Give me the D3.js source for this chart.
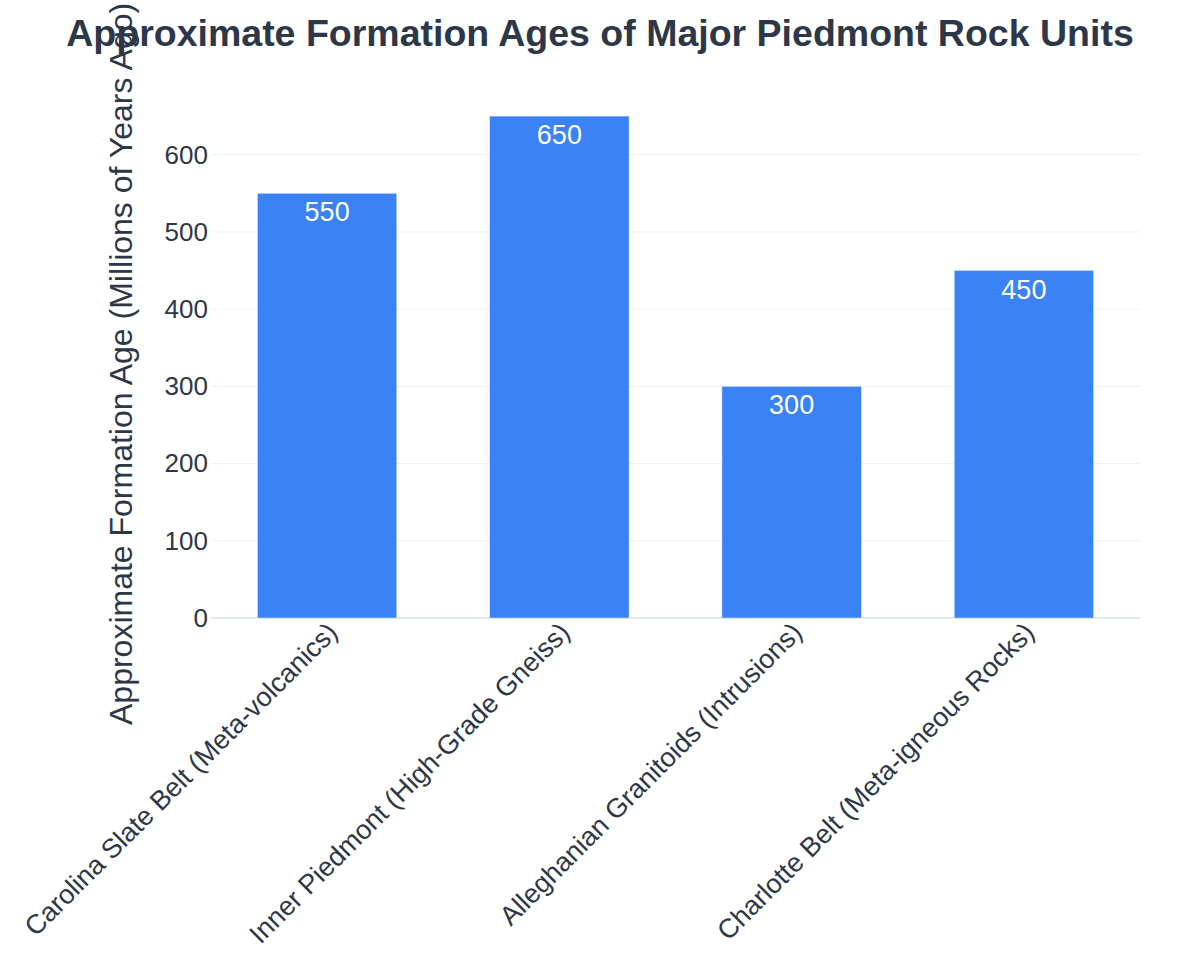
<!DOCTYPE html>
<html>
<head>
<meta charset="utf-8">
<script src="https://cdn.jsdelivr.net/npm/d3@7"></script>
<style>
	body { margin: 0; background: #fff; }
	svg { display: block; font-family: "Liberation Sans", Arial, sans-serif; }
</style>
</head>
<body>
<div id="chart"></div>
<script>
const rockUnits = [
	"Carolina Slate Belt (Meta-volcanics)",
	"Inner Piedmont (High-Grade Gneiss)",
	"Alleghanian Granitoids (Intrusions)",
	"Charlotte Belt (Meta-igneous Rocks)"
]
const ageValues = [550, 650, 300, 450]
const yTicks = [0, 100, 200, 300, 400, 500, 600]

const width = 1200, height = 975
const margin = {top: 91, right: 60, bottom: 357, left: 211}
const textColor = "#2d3748"

const svg = d3.select("#chart").append("svg")
	.attr("width", width)
	.attr("height", height)

const x = d3.scaleBand()
	.domain(rockUnits)
	.range([margin.left, width - margin.right])
	.paddingInner(0.4)
	.paddingOuter(0.2)

const y = d3.scaleLinear()
	.domain([0, d3.max(ageValues) * 1.05])
	.range([height - margin.bottom, margin.top])

// grid
svg.append("g")
	.selectAll("line")
	.data(yTicks)
	.join("line")
	.attr("x1", margin.left)
	.attr("x2", width - margin.right)
	.attr("y1", d => y(d))
	.attr("y2", d => y(d))
	.attr("stroke", d => d === 0 ? "#e2e8f0" : "#eef1f5")
	.attr("stroke-width", d => d === 0 ? 2 : 1)

// y axis labels
const yAxis = svg.append("g")
	.attr("transform", "translate(" + margin.left + ",0)")
	.call(d3.axisLeft(y).tickValues(yTicks).tickSize(0).tickPadding(3))
yAxis.select(".domain").remove()
yAxis.selectAll("text")
	.attr("font-size", 26)
	.attr("fill", textColor)
	.attr("font-family", "Liberation Sans, Arial, sans-serif")

// bars
svg.append("g")
	.selectAll("rect")
	.data(ageValues)
	.join("rect")
	.attr("x", (d, i) => x(rockUnits[i]))
	.attr("y", d => y(d))
	.attr("width", x.bandwidth())
	.attr("height", d => y(0) - y(d))
	.attr("fill", "#3b82f6")
	.attr("stroke", "#dbe8fd")
	.attr("stroke-width", 0.5)

svg.append("g")
	.selectAll("text")
	.data(ageValues)
	.join("text")
	.attr("x", (d, i) => x(rockUnits[i]) + x.bandwidth() / 2)
	.attr("y", d => y(d) + 28)
	.attr("text-anchor", "middle")
	.attr("font-size", 27)
	.attr("fill", "#fff")
	.text(d => d)

// x axis labels
const xAxis = svg.append("g")
	.attr("transform", "translate(0," + y(0) + ")")
	.call(d3.axisBottom(x).tickSize(0).tickPadding(0))
xAxis.select(".domain").remove()
xAxis.selectAll("text")
	.attr("font-size", 27)
	.attr("fill", textColor)
	.attr("font-family", "Liberation Sans, Arial, sans-serif")
	.attr("text-anchor", "end")
	.attr("dy", null)
	.attr("transform", "translate(12,16) rotate(-45)")

// y title
svg.append("text")
	.attr("transform", "translate(132,725) rotate(-90)")
	.attr("font-size", 32)
	.attr("fill", textColor)
	.text("Approximate Formation Age (Millions of Years Ago)")

// title
svg.append("text")
	.attr("x", 600)
	.attr("y", 46)
	.attr("text-anchor", "middle")
	.attr("font-size", 37.5)
	.attr("font-weight", "bold")
	.attr("fill", textColor)
	.text("Approximate Formation Ages of Major Piedmont Rock Units")
</script>
</body>
</html>
